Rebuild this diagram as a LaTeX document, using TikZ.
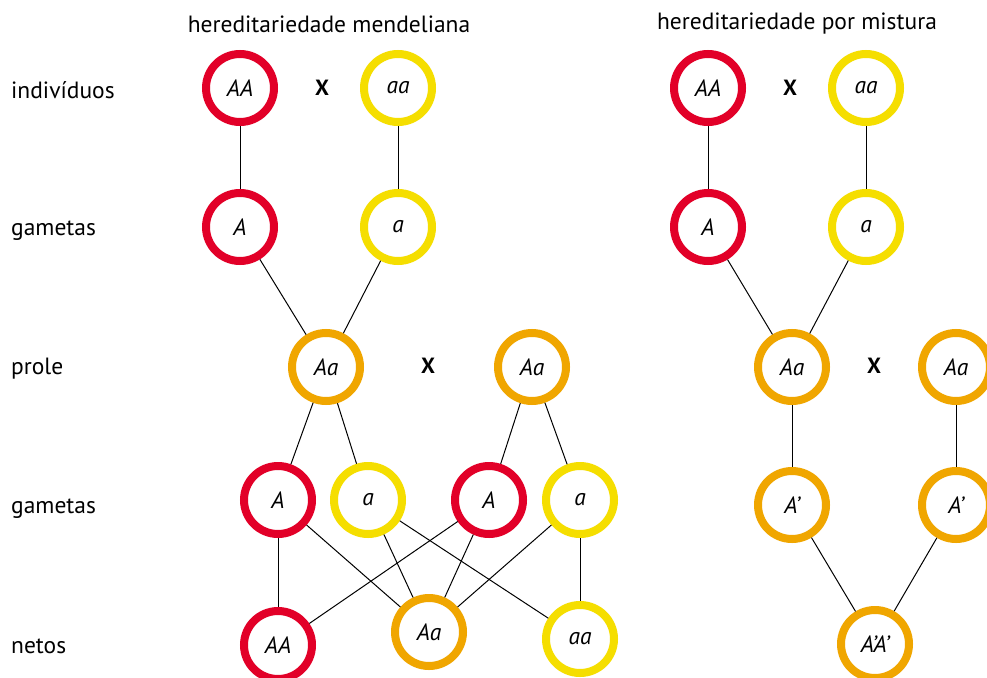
\documentclass[tikz,border=0pt]{standalone}
\usepackage{fontspec}
\setmainfont{PT Sans}
\definecolor{cred}{RGB}{226,0,40}
\definecolor{cyel}{RGB}{245,222,0}
\definecolor{cora}{RGB}{240,166,0}
\begin{document}
\begin{tikzpicture}[x=1pt,y=-1pt,
  gen/.style={circle,draw,line width=8pt,minimum size=68pt,inner sep=0pt,fill=white,font=\fontsize{23.5}{28}\selectfont\itshape},
  rd/.style={gen,draw=cred},
  yl/.style={gen,draw=cyel},
  og/.style={gen,draw=cora},
  lbl/.style={anchor=west,inner sep=0pt,font=\fontsize{23.5}{28}\selectfont},
  ttl/.style={inner sep=0pt,font=\fontsize{23.5}{28}\selectfont},
  cross/.style={inner sep=0pt,font=\fontsize{22}{26}\selectfont\bfseries},
  link/.style={line width=1pt,black}]
\path[use as bounding box,clip] (0,0) rectangle (987,677);
\fill[white] (0,0) rectangle (987,677);
% titles and labels
\node[ttl] (t1) at (329,24) {hereditariedade mendeliana};
\node[ttl] (t2) at (797,24) {hereditariedade por mistura};
\node[lbl] (l1) at (11,90) {indivíduos};
\node[lbl] (l2) at (11,231) {gametas};
\node[lbl] (l3) at (11,369) {prole};
\node[lbl] (l4) at (11,509) {gametas};
\node[lbl] (l5) at (11,646) {netos};
% left: mendelian
\node[rd] (mAA) at (240,88) {AA};
\node[yl] (maa) at (398,88) {aa};
\node[cross] (mx1) at (322,88) {X};
\node[rd] (mA) at (240,227) {A};
\node[yl] (ma) at (398,227) {a};
\node[og] (mAa1) at (326,367) {Aa};
\node[cross] (mx2) at (428,366) {X};
\node[og] (mAa2) at (532,367) {Aa};
\node[rd] (gA1) at (278,500) {A};
\node[yl] (ga1) at (368,500) {a};
\node[rd] (gA2) at (489,500) {A};
\node[yl] (ga2) at (580,500) {a};
\node[rd] (nAA) at (278,645) {AA};
\node[og] (nAa) at (429,632) {Aa};
\node[yl] (naa) at (580,639) {aa};
% right: blending
\node[rd] (bAA) at (708,88) {AA};
\node[yl] (baa) at (866,88) {aa};
\node[cross] (bx1) at (790,88) {X};
\node[rd] (bA) at (708,227) {A};
\node[yl] (ba) at (866,227) {a};
\node[og] (bAa1) at (792,367) {Aa};
\node[cross] (bx2) at (874,366) {X};
\node[og] (bAa2) at (956,367) {Aa};
\node[og] (bP1) at (792,505) {A’};
\node[og] (bP2) at (956,505) {A’};
\node[og] (bPP) at (875,644) {A’A’};
% connectors
\draw[link] (mAA) -- (mA);
\draw[link] (maa) -- (ma);
\draw[link] (mA) -- (mAa1);
\draw[link] (ma) -- (mAa1);
\draw[link] (mAa1) -- (gA1);
\draw[link] (mAa1) -- (ga1);
\draw[link] (mAa2) -- (gA2);
\draw[link] (mAa2) -- (ga2);
\draw[link] (gA1) -- (nAA);
\draw[link] (gA1) -- (nAa);
\draw[link] (ga1) -- (nAa);
\draw[link] (ga1) -- (naa);
\draw[link] (gA2) -- (nAA);
\draw[link] (gA2) -- (nAa);
\draw[link] (ga2) -- (nAa);
\draw[link] (ga2) -- (naa);
\draw[link] (bAA) -- (bA);
\draw[link] (baa) -- (ba);
\draw[link] (bA) -- (bAa1);
\draw[link] (ba) -- (bAa1);
\draw[link] (bAa1) -- (bP1);
\draw[link] (bAa2) -- (bP2);
\draw[link] (bP1) -- (bPP);
\draw[link] (bP2) -- (bPP);
\end{tikzpicture}
\end{document}
